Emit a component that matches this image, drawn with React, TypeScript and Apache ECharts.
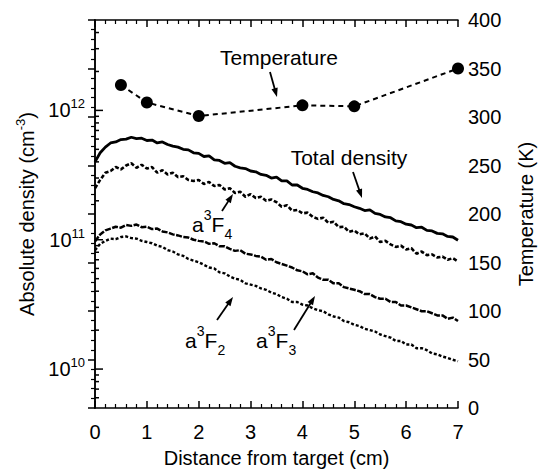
import React, { useEffect, useRef } from "react";
import * as echarts from "echarts";

// Distance from target (cm)
const distance = [
  0, 0.1, 0.2, 0.3, 0.4, 0.5, 0.6, 0.7, 0.8, 0.9,
  1, 1.1, 1.2, 1.3, 1.4, 1.5, 1.6, 1.7, 1.8, 1.9,
  2, 2.1, 2.2, 2.3, 2.4, 2.5, 2.6, 2.7, 2.8, 2.9,
  3, 3.1, 3.2, 3.3, 3.4, 3.5, 3.6, 3.7, 3.8, 3.9,
  4, 4.1, 4.2, 4.3, 4.4, 4.5, 4.6, 4.7, 4.8, 4.9,
  5, 5.1, 5.2, 5.3, 5.4, 5.5, 5.6, 5.7, 5.8, 5.9,
  6, 6.1, 6.2, 6.3, 6.4, 6.5, 6.6, 6.7, 6.8, 6.9,
  7,
];

// Densities in units of 1e10 cm^-3
const DENSITY_UNIT = 1e10;
const totalDensity = [
  40, 47, 52, 56, 57, 59.5, 60, 62, 60.5, 61,
  58.5, 59, 56, 57, 54.5, 53, 52, 50, 49.5, 47,
  46.5, 44, 44.5, 41.5, 41, 39, 39.5, 37, 36, 35.5,
  34, 33.5, 32, 31.5, 30, 30.5, 28.5, 28.5, 26.5, 26.5,
  25, 24.5, 23.5, 23, 22, 21.5, 20.5, 20, 19, 18.7,
  18, 17.5, 16.8, 17, 16, 15.7, 15, 14.8, 14, 13.8,
  13.2, 13, 12.4, 12.5, 11.8, 11.7, 11.2, 11.1, 10.6, 10.5,
  9.9,
];
const a3F4 = [
  25, 29, 33, 34, 36.5, 35, 37.5, 39, 36, 38,
  35.5, 36.5, 33, 34.5, 32, 33, 30.5, 31, 29, 28.5,
  29, 27, 28, 26, 26.5, 24.5, 25, 23, 23.5, 21.5,
  22.5, 21, 21.5, 20, 20.5, 19.5, 18, 18.5, 16.8, 17,
  16, 16.2, 15, 14.5, 14.8, 13.5, 13.8, 12.5, 12.6, 11.5,
  11.8, 11, 11.2, 10.2, 10.6, 9.6, 9.8, 9.2, 8.8, 9,
  8.4, 8.6, 7.8, 8.1, 7.6, 7.7, 7.3, 7.4, 7, 7.2,
  6.8,
];
const a3F3 = [
  9.7, 11, 11.8, 12.2, 12.6, 12.4, 13, 12.8, 13.1, 12.5,
  12.6, 12.1, 12.2, 11.6, 11.4, 11, 10.8, 10.5, 10.4, 10,
  9.8, 9.7, 9.3, 9.4, 8.9, 8.9, 8.5, 8.2, 8.3, 7.8,
  7.7, 7.5, 7.4, 7, 7.1, 6.7, 6.5, 6.3, 6.1, 5.8,
  5.7, 5.4, 5.5, 5.1, 4.9, 4.9, 4.6, 4.6, 4.3, 4.2,
  4.1, 4, 3.8, 3.8, 3.6, 3.5, 3.5, 3.3, 3.3, 3.1,
  3.1, 3, 2.9, 2.8, 2.8, 2.7, 2.6, 2.6, 2.45, 2.5,
  2.35,
];
const a3F2 = [
  8.3, 9.3, 9.8, 10.2, 10.1, 10.5, 10.6, 10.3, 10.2, 9.8,
  9.6, 9.4, 9, 8.8, 8.3, 8.1, 7.7, 7.5, 7.1, 6.9,
  6.7, 6.4, 6.1, 6, 5.6, 5.5, 5.2, 5, 4.9, 4.6,
  4.5, 4.4, 4.2, 4.1, 3.9, 3.8, 3.6, 3.5, 3.3, 3.3,
  3.15, 3.1, 2.95, 2.85, 2.8, 2.65, 2.55, 2.5, 2.35, 2.3,
  2.2, 2.15, 2.05, 2, 1.95, 1.85, 1.8, 1.75, 1.65, 1.65,
  1.55, 1.55, 1.45, 1.45, 1.4, 1.32, 1.3, 1.25, 1.22, 1.18,
  1.15,
];

// Temperature (K)
const tempDistance = [0.5, 1, 2, 4, 5, 7];
const temperature = [333, 315, 301, 312, 311, 350];

// Log axis tick values
const densityMajorTicks = [1e10, 1e11, 1e12];
const densityMinorTicks = [
  6e9, 7e9, 8e9, 9e9,
  2e10, 3e10, 4e10, 5e10, 6e10, 7e10, 8e10, 9e10,
  2e11, 3e11, 4e11, 5e11, 6e11, 7e11, 8e11, 9e11,
  2e12, 3e12, 4e12,
];

const FONT = "'Liberation Sans', Arial, Helvetica, sans-serif";

function arrow(x1: number, y1: number, x2: number, y2: number) {
  const dx = x2 - x1;
  const dy = y2 - y1;
  const L = Math.hypot(dx, dy);
  const ux = dx / L;
  const uy = dy / L;
  const hl = 9;
  const hw = 3.2;
  const bx = x2 - ux * hl;
  const by = y2 - uy * hl;
  return [
    {
      type: "line",
      shape: { x1, y1, x2: bx + ux * 2, y2: by + uy * 2 },
      style: { stroke: "#000", lineWidth: 1.8 },
    },
    {
      type: "polygon",
      shape: {
        points: [
          [x2, y2],
          [bx - uy * hw, by + ux * hw],
          [bx + uy * hw, by - ux * hw],
        ],
      },
      style: { fill: "#000" },
    },
  ];
}

function text(x: number, y: number, t: string, size: number, align = "left") {
  return {
    type: "text",
    x,
    y,
    style: {
      text: t,
      fontSize: size,
      fontFamily: FONT,
      fill: "#000",
      align,
      verticalAlign: "middle",
    },
  };
}

function levelLabel(x0: number, y: number, sub: string) {
  return [
    text(x0, y, "a", 21),
    text(x0 + 11.7, y - 9, "3", 14),
    text(x0 + 19.5, y, "F", 21),
    text(x0 + 32.5, y + 10, sub, 14),
  ];
}

function pairs(arr: number[]) {
  return distance.map((d, i) => [d, arr[i] * DENSITY_UNIT]);
}

export default function App() {
  const ref = useRef<HTMLDivElement>(null);
  useEffect(() => {
    if (!ref.current) return;
    const chart = echarts.init(ref.current, undefined, { renderer: "svg" });

    const axisLine = { show: true, lineStyle: { color: "#000", width: 1.5 } };
    const labelStyle = { color: "#000", fontSize: 20, fontFamily: FONT };

    const option: any = {
      animation: false,
      backgroundColor: "#fff",
      textStyle: { fontFamily: FONT, color: "#000" },
      grid: { left: 95, right: 82, top: 20, bottom: 61, outerBoundsMode: "none", containLabel: false },
      xAxis: [
        {
          type: "value",
          min: 0,
          max: 7,
          interval: 1,
          position: "bottom",
          axisLine,
          axisTick: { inside: true, length: 7, lineStyle: { color: "#000", width: 1.5 } },
          minorTick: { show: true, splitNumber: 5, length: 4, lineStyle: { color: "#000", width: 1.2 } },
          axisLabel: { ...labelStyle, margin: 14, showMinLabel: true, showMaxLabel: true },
          splitLine: { show: false },
          minorSplitLine: { show: false },
          name: "Distance from target (cm)",
          nameLocation: "middle",
          nameGap: 36,
          nameTextStyle: { ...labelStyle, lineHeight: 22 },
        },
        {
          type: "value",
          min: 0,
          max: 7,
          interval: 1,
          position: "top",
          axisLine,
          axisTick: { inside: true, length: 7, lineStyle: { color: "#000", width: 1.5 } },
          minorTick: { show: true, splitNumber: 5, length: 4, lineStyle: { color: "#000", width: 1.2 } },
          axisLabel: { show: false },
          splitLine: { show: false },
          minorSplitLine: { show: false },
        },
      ],
      yAxis: [
        {
          type: "log",
          logBase: 10,
          min: 5e9,
          max: 5e12,
          position: "left",
          axisLine,
          axisTick: { show: false },
          minorTick: { show: false },
          splitLine: { show: false },
          minorSplitLine: { show: false },
          axisLabel: {
            margin: 10,
            formatter: (v: number) => {
              const e = Math.log10(v);
              if (Math.abs(e - Math.round(e)) > 1e-6) return "";
              return "{b|10}{s|" + Math.round(e) + "}";
            },
            rich: {
              b: { fontSize: 20, lineHeight: 26, color: "#000", fontFamily: FONT, verticalAlign: "middle" },
              s: { fontSize: 13, lineHeight: 13, color: "#000", fontFamily: FONT, verticalAlign: "top" },
            },
          },
          name: "{t|Absolute density (cm}{s|-3}{t|)}",
          nameLocation: "middle",
          nameGap: 53,
          nameRotate: 90,
          nameTextStyle: {
            rich: {
              t: { fontSize: 20, lineHeight: 26, color: "#000", fontFamily: FONT, verticalAlign: "middle" },
              s: { fontSize: 13, lineHeight: 13, color: "#000", fontFamily: FONT, verticalAlign: "top" },
            },
          },
        },
        {
          type: "value",
          min: 0,
          max: 400,
          interval: 50,
          position: "right",
          axisLine,
          axisTick: { inside: true, length: 7, lineStyle: { color: "#000", width: 1.5 } },
          minorTick: { show: true, splitNumber: 5, length: 4, lineStyle: { color: "#000", width: 1.2 } },
          splitLine: { show: false },
          minorSplitLine: { show: false },
          axisLabel: { ...labelStyle, margin: 10, showMinLabel: true, showMaxLabel: true, hideOverlap: false },
          name: "Temperature (K)",
          nameLocation: "middle",
          nameGap: 58,
          nameRotate: 90,
          nameTextStyle: { ...labelStyle, lineHeight: 20 },
        },
      ],
      series: [
        {
          type: "custom",
          name: "logTicks",
          xAxisIndex: 0,
          yAxisIndex: 0,
          silent: true,
          clip: false,
          data: [
            ...densityMajorTicks.map((v) => [0, v, 8]),
            ...densityMinorTicks.map((v) => [0, v, 4]),
          ],
          renderItem: (_params: any, api: any) => {
            const p = api.coord([0, api.value(1)]);
            const len = api.value(2);
            return {
              type: "line",
              shape: { x1: p[0], y1: p[1], x2: p[0] + len, y2: p[1] },
              style: { stroke: "#000", lineWidth: 1.5 },
            };
          },
        },
        {
          type: "line",
          name: "Total density",
          xAxisIndex: 0,
          yAxisIndex: 0,
          data: pairs(totalDensity),
          showSymbol: false,
          lineStyle: { color: "#000", width: 2.8 },
        },
        {
          type: "line",
          name: "a3F4",
          xAxisIndex: 0,
          yAxisIndex: 0,
          data: pairs(a3F4),
          showSymbol: false,
          lineStyle: { color: "#000", width: 2.6, type: [4, 2] },
        },
        {
          type: "line",
          name: "a3F3",
          xAxisIndex: 0,
          yAxisIndex: 0,
          data: pairs(a3F3),
          showSymbol: false,
          lineStyle: { color: "#000", width: 2.5, type: [6, 1.5] },
        },
        {
          type: "line",
          name: "a3F2",
          xAxisIndex: 0,
          yAxisIndex: 0,
          data: pairs(a3F2),
          showSymbol: false,
          lineStyle: { color: "#000", width: 2.4, type: [3, 2] },
        },
        {
          type: "line",
          name: "Temperature",
          xAxisIndex: 0,
          yAxisIndex: 1,
          data: tempDistance.map((d, i) => [d, temperature[i]]),
          symbol: "circle",
          symbolSize: 12,
          clip: false,
          itemStyle: { color: "#000" },
          lineStyle: { color: "#000", width: 2, type: [5, 4] },
        },
      ],
      graphic: [
        text(279, 57, "Temperature", 21, "center"),
        ...arrow(270, 72, 277, 97),
        text(349, 157, "Total density", 21, "center"),
        ...arrow(353, 172, 362, 198),
        ...levelLabel(192, 224, "4"),
        ...arrow(222, 211, 233, 194),
        ...levelLabel(185, 340, "2"),
        ...arrow(217, 320, 233, 297),
        ...levelLabel(256, 340, "3"),
        ...arrow(294, 330, 315, 296),
      ],
    };

    chart.setOption(option);
    return () => chart.dispose();
  }, []);

  return (
    <div
      ref={ref}
      style={{ position: "fixed", left: 0, top: 0, width: 540, height: 469, background: "#fff" }}
    />
  );
}
